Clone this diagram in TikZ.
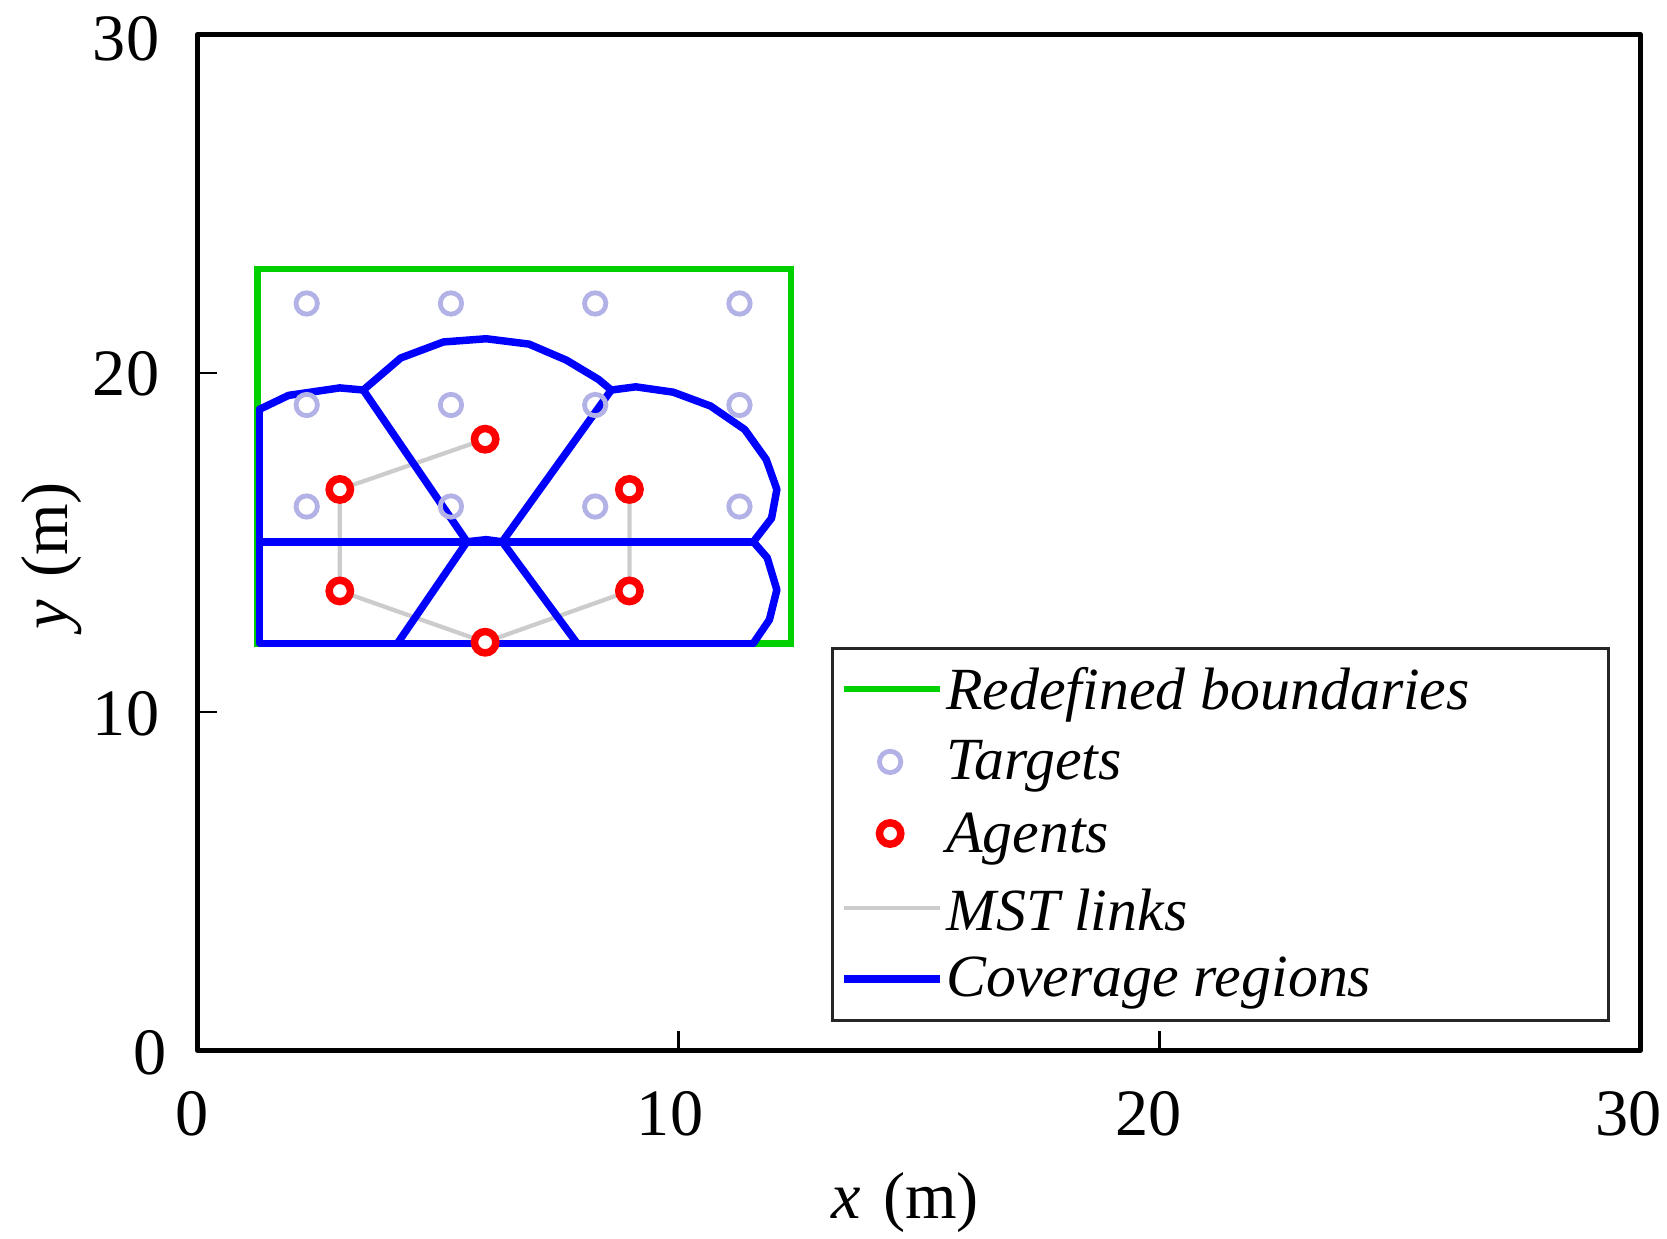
\documentclass[tikz,border=0pt]{standalone}
\usepackage{fontspec}
\setmainfont{Liberation Serif}
\begin{document}
\begin{tikzpicture}[x=1pt,y=-1pt,
 ax/.style={line width=5pt,line cap=round,line join=round},
 bl/.style={blue,line width=7pt,line join=round,line cap=round},
 gr/.style={green!90!black,line width=6pt},
 ms/.style={gray!40,line width=4pt},
 tg/.style={circle,draw=tcol,line width=4.5pt,minimum size=20pt,inner sep=0pt},
 ag/.style={circle,draw=red,line width=7pt,fill=white,minimum size=20pt,inner sep=0pt},
 tick/.style={font=\fontsize{62}{62}\selectfont},
 leg/.style={font=\fontsize{56}{56}\selectfont\itshape,anchor=west}]
\definecolor{tcol}{RGB}{178,178,230}
\definecolor{green}{RGB}{0,230,0}
\useasboundingbox (0,0) rectangle (1560,1159);
% green boundary
\draw[gr] (241,252) rectangle (740,602);
% MST
\coordinate (a1) at (454,411); \coordinate (a2) at (318,458); \coordinate (a3) at (318,553);
\coordinate (a4) at (454,601); \coordinate (a5) at (589,553); \coordinate (a6) at (589,458);
\draw[ms] (a1)--(a2)--(a3)--(a4)--(a5)--(a6);
% blue regions
\draw[bl] (243,383)--(243,602)--(705,602);
\draw[bl] (243,507)--(705,507);
\draw[bl] (243,383)--(270,370)--(318,363)--(340,365)--(437,507)--(455,505)--(470,507)--(572,365);
\draw[bl] (340,365)--(375,335)--(415,320)--(455,317)--(495,322)--(530,337)--(560,355)--(572,365);
\draw[bl] (572,365)--(595,362)--(630,367)--(665,380)--(697,402)--(717,430)--(727,458)--(722,485)--(705,507)--(718,522)--(727,552)--(720,580)--(705,602);
\draw[bl] (437,507)--(372,602); \draw[bl] (470,507)--(540,602);
% targets
\foreach \i/\x in {1/287,2/422,3/557,4/692}{
 \foreach \j/\y in {1/284,2/379,3/474}{\node[tg] (t\i\j) at (\x,\y) {};}}
% agents
\foreach \k in {1,...,6}{\node[ag] (n\k) at (a\k) {};}
% axes
\draw[ax] (185,32) rectangle (1535,983);
\draw[line width=2pt] (635,983)--(635,965) (1085,983)--(1085,965) (185,666)--(203,666) (185,349)--(203,349);
\node[tick] (x0) at (180,1042) {0}; \node[tick] (x1) at (627,1042) {10};
\node[tick] (x2) at (1075,1042) {20}; \node[tick] (x3) at (1524,1042) {30};
\node[tick] (y0) at (140,985) {0}; \node[tick] (y1) at (118,668) {10};
\node[tick] (y2) at (118,350) {20}; \node[tick] (y3) at (118,36) {30};
\node[tick] (xl) at (847,1125) {\textit{x}\,\,(m)};
\node[tick,rotate=90] (yl) at (48,520) {\textit{y}\,\,(m)};
% legend
\draw[line width=3pt,draw=black!85] (779,607) rectangle (1505,955);
\draw[gr] (790,645)--(880,645);
\node[tg] (lt) at (833,713) {};
\node[ag] (la) at (833,780) {};
\draw[ms] (790,850)--(880,850);
\draw[bl,line cap=butt] (790,916)--(880,916);
\node[leg] (l1) at (882,650) {Redefined boundaries};
\node[leg] (l2) at (882,717) {Targets};
\node[leg] (l3) at (882,785) {Agents};
\node[leg] (l4) at (882,852) {MST links};
\node[leg] (l5) at (882,920) {Coverage regions};
\end{tikzpicture}
\end{document}
